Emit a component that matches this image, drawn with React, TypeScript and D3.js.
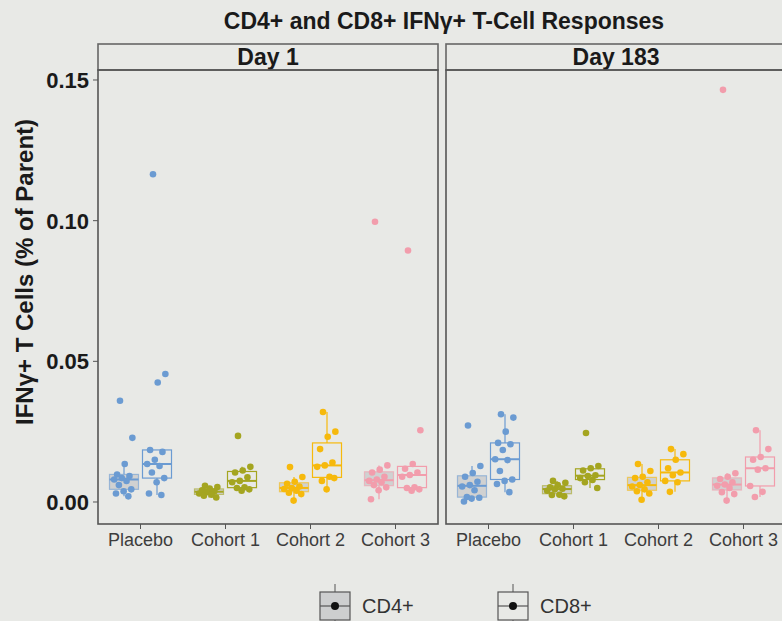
import React from "react";
import * as d3 from "d3";

// data
const groups = ["Placebo", "Cohort 1", "Cohort 2", "Cohort 3"];
const days = ["Day 1", "Day 183"];
const markers = ["CD4+", "CD8+"];
const yTicks = [0, 0.05, 0.1, 0.15];

// one array per group: Placebo, Cohort 1, Cohort 2, Cohort 3
const day1Cd4 = [
  [0.036, 0.0228, 0.0135, 0.0098, 0.0092, 0.0085, 0.008, 0.0075, 0.006, 0.0045, 0.0038, 0.003, 0.002],
  [0.0058, 0.0053, 0.0048, 0.0042, 0.0038, 0.0035, 0.003, 0.0026, 0.0022, 0.0016],
  [0.0124, 0.0089, 0.0072, 0.0065, 0.0055, 0.005, 0.0046, 0.004, 0.0033, 0.0028, 0.0005],
  [0.0996, 0.013, 0.0115, 0.0105, 0.009, 0.008, 0.0075, 0.007, 0.006, 0.0052, 0.0042, 0.001],
];
const day1Cd8 = [
  [0.1165, 0.0455, 0.0425, 0.0185, 0.0178, 0.015, 0.0135, 0.0128, 0.0105, 0.0085, 0.007, 0.003, 0.0025],
  [0.0235, 0.0125, 0.0112, 0.0105, 0.0088, 0.0075, 0.007, 0.0052, 0.005, 0.0045, 0.004],
  [0.032, 0.025, 0.0232, 0.0188, 0.014, 0.013, 0.0125, 0.009, 0.0075, 0.0085, 0.0045],
  [0.0894, 0.0255, 0.0135, 0.0118, 0.0105, 0.0096, 0.009, 0.0052, 0.005, 0.0045, 0.004],
];
const day183Cd4 = [
  [0.0272, 0.0128, 0.0103, 0.009, 0.0072, 0.006, 0.0055, 0.0042, 0.0018, 0.0015, 0.0012, 0.0002],
  [0.0075, 0.0068, 0.006, 0.0052, 0.0047, 0.0045, 0.004, 0.0026, 0.0025, 0.002],
  [0.0135, 0.011, 0.009, 0.0085, 0.007, 0.006, 0.0055, 0.0045, 0.0038, 0.003, 0.0008],
  [0.1465, 0.0102, 0.009, 0.0082, 0.007, 0.0062, 0.0058, 0.005, 0.0035, 0.0028, 0.0005],
];
const day183Cd8 = [
  [0.0312, 0.03, 0.025, 0.021, 0.0205, 0.0185, 0.0152, 0.0149, 0.011, 0.008, 0.0075, 0.0064, 0.0035],
  [0.0245, 0.0128, 0.012, 0.0112, 0.0095, 0.0092, 0.0085, 0.0078, 0.007, 0.005],
  [0.0188, 0.017, 0.015, 0.012, 0.0105, 0.0095, 0.0075, 0.007, 0.0036],
  [0.0255, 0.0188, 0.016, 0.015, 0.012, 0.0115, 0.0057, 0.0036, 0.0018],
];
const dayData = [
  [day1Cd4, day1Cd8],
  [day183Cd4, day183Cd8],
];

const colors = ["#6b9bd2", "#a4a520", "#f6b90c", "#f29dac"];

const W = 782;
const H = 621;
const bg = "#e8e9e6";
const font = "'Liberation Sans', Arial, sans-serif";
const panelW = 340;
const panelLeft = [98, 446];
const panelTop = 70;
const panelBottom = 524;
const stripTop = 44;
const boxW = 29;
const dodge = 16.5;

const y = d3.scaleLinear().domain([-0.00782, 0.15355]).range([panelBottom, panelTop]);
const x = d3.scaleBand().domain(groups).range([0, panelW]);

const stats = (vals: number[]) => {
  const s = vals.slice().sort(d3.ascending);
  const q1 = d3.quantile(s, 0.25)!;
  const med = d3.quantile(s, 0.5)!;
  const q3 = d3.quantile(s, 0.75)!;
  const iqr = q3 - q1;
  const lo = d3.min(s.filter(v => v >= q1 - 1.5 * iqr))!;
  const hi = d3.max(s.filter(v => v <= q3 + 1.5 * iqr))!;
  return { q1, med, q3, lo, hi };
};

// fixed jitter pattern (position only)
const jitter = (i: number) => (((i * 0.618034 + 0.3) % 1) - 0.5) * 20;

const Box = ({ cx, vals, color, filled }) => {
  const b = stats(vals);
  return (
    <g>
      <line x1={cx} x2={cx} y1={y(b.q3)} y2={y(b.hi)} stroke={color} strokeWidth={1.2} />
      <line x1={cx} x2={cx} y1={y(b.q1)} y2={y(b.lo)} stroke={color} strokeWidth={1.2} />
      <rect
        x={cx - boxW / 2}
        y={y(b.q3)}
        width={boxW}
        height={y(b.q1) - y(b.q3)}
        fill={filled ? "#c9cacc" : "none"}
        fillOpacity={0.8}
        stroke={color}
        strokeOpacity={filled ? 0.6 : 1}
        strokeWidth={1.2}
      />
      <line x1={cx - boxW / 2} x2={cx + boxW / 2} y1={y(b.med)} y2={y(b.med)} stroke={color} strokeWidth={2} />
      {vals.map((v, i) => (
        <circle key={i} cx={cx + jitter(i)} cy={y(v)} r={3.3} fill={color} />
      ))}
    </g>
  );
};

const LegendKey = ({ x0, filled, label }) => (
  <g>
    <line x1={x0 + 15} x2={x0 + 15} y1={584} y2={628} stroke="#555" strokeWidth={1} />
    <rect x={x0} y={592} width={30} height={28} fill={filled ? "#cdcecf" : bg} stroke="#555" strokeWidth={1.2} />
    <line x1={x0} x2={x0 + 30} y1={606} y2={606} stroke="#555" strokeWidth={1.2} />
    <circle cx={x0 + 15} cy={606} r={4} fill="#111" />
    <text x={x0 + 42} y={613} fontSize={20} fill="#333" fontFamily={font}>
      {label}
    </text>
  </g>
);

export default function App() {
  return (
    <svg width={W} height={H} style={{ position: "absolute", left: 0, top: 0, background: bg }}>
      <rect width={W} height={H} fill={bg} />
      <text x={444} y={29} textAnchor="middle" fontSize={23} fontWeight="bold" fill="#1a1a1a" fontFamily={font}>
        CD4+ and CD8+ IFNγ+ T-Cell Responses
      </text>

      <text
        transform={`translate(24,272) rotate(-90)`}
        dy="0.36em"
        textAnchor="middle"
        fontSize={24}
        fontWeight="bold"
        fill="#1a1a1a"
        fontFamily={font}
      >
        IFNγ+ T Cells (% of Parent)
      </text>

      {yTicks.map(t => (
        <g key={t}>
          <line x1={93} x2={98} y1={y(t)} y2={y(t)} stroke="#555" />
          <text x={89} y={y(t)} dy="0.36em" textAnchor="end" fontSize={22} fontWeight="bold" fill="#1a1a1a" fontFamily={font}>
            {d3.format(".2f")(t)}
          </text>
        </g>
      ))}

      {days.map((day, di) => {
        const left = panelLeft[di];
        return (
          <g key={day}>
            <rect x={left} y={stripTop} width={panelW} height={panelTop - stripTop} fill={bg} stroke="#666" strokeWidth={1.6} />
            <text
              x={left + panelW / 2}
              y={(stripTop + panelTop) / 2}
              dy="0.36em"
              textAnchor="middle"
              fontSize={23}
              fontWeight="bold"
              fill="#1a1a1a"
              fontFamily={font}
            >
              {day}
            </text>
            <rect x={left} y={panelTop} width={panelW} height={panelBottom - panelTop} fill="none" stroke="#555" strokeWidth={1.6} />
            {groups.map((g, gi) => {
              const cx = left + x(g)! + x.bandwidth() / 2;
              return (
                <g key={g}>
                  <line x1={cx} x2={cx} y1={panelBottom} y2={panelBottom + 5} stroke="#555" />
                  <text x={cx} y={panelBottom + 6} dy="0.9em" textAnchor="middle" fontSize={18} fill="#3d3d3d" fontFamily={font}>
                    {g}
                  </text>
                  {markers.map((m, mi) => (
                    <Box
                      key={m}
                      cx={cx + (mi === 0 ? -dodge : dodge)}
                      vals={dayData[di][mi][gi]}
                      color={colors[gi]}
                      filled={mi === 0}
                    />
                  ))}
                </g>
              );
            })}
          </g>
        );
      })}

      <LegendKey x0={320} filled={true} label={markers[0]} />
      <LegendKey x0={498} filled={false} label={markers[1]} />
    </svg>
  );
}
